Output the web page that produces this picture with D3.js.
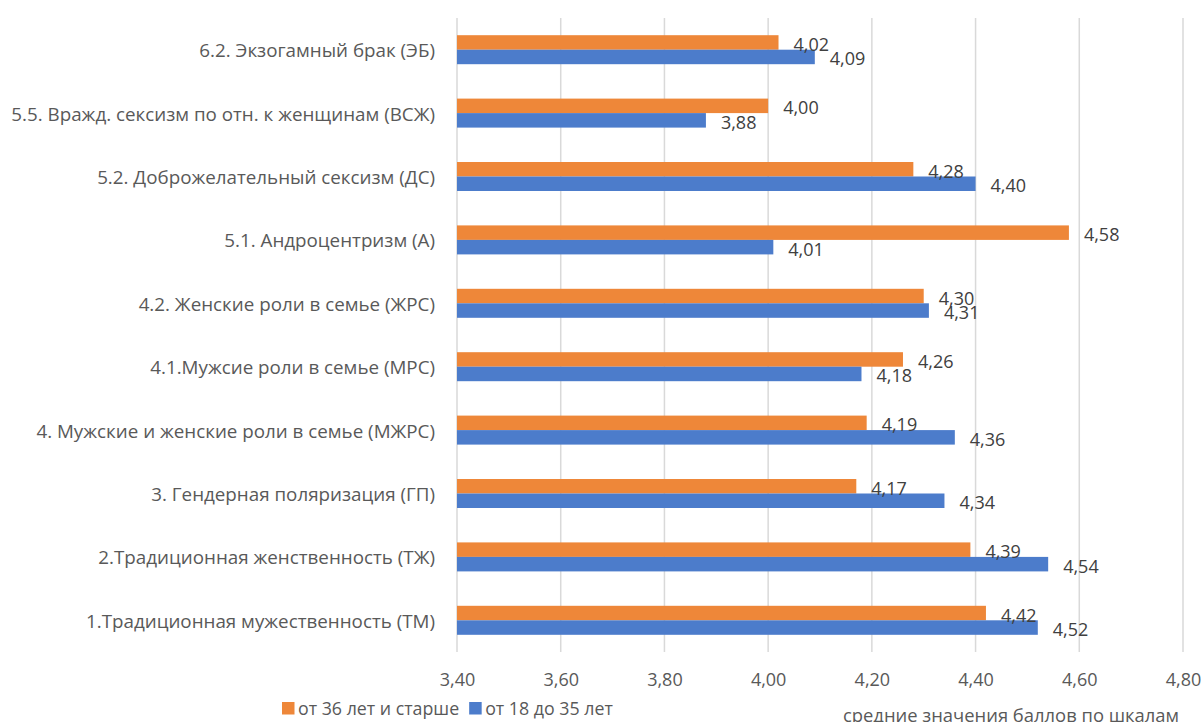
<!DOCTYPE html>
<html lang="ru">
<head>
<meta charset="utf-8">
<script src="https://cdn.jsdelivr.net/npm/d3@7/dist/d3.min.js"></script>
<style>
  html, body { margin: 0; padding: 0; background: #fff; }
  svg { display: block; }
  text { font-family: "Open Sans", "Noto Sans", sans-serif; }
</style>
</head>
<body>
<svg id="chart" width="1202" height="722"></svg>
<script>
// Шкалы (сверху вниз, как на диаграмме)
const categories = [
  "6.2. Экзогамный брак (ЭБ)",
  "5.5. Вражд. сексизм по отн. к женщинам (ВСЖ)",
  "5.2. Доброжелательный сексизм (ДС)",
  "5.1. Андроцентризм (А)",
  "4.2. Женские роли в семье (ЖРС)",
  "4.1.Мужсие роли в семье (МРС)",
  "4. Мужские и женские роли в семье (МЖРС)",
  "3. Гендерная поляризация (ГП)",
  "2.Традиционная женственность (ТЖ)",
  "1.Традиционная мужественность (ТМ)"
];

const seriesNames = ["от 36 лет и старше", "от 18 до 35 лет"];

const older = [4.02, 4.00, 4.28, 4.58, 4.30, 4.26, 4.19, 4.17, 4.39, 4.42];
const younger = [4.09, 3.88, 4.40, 4.01, 4.31, 4.18, 4.36, 4.34, 4.54, 4.52];

const xTicks = [3.40, 3.60, 3.80, 4.00, 4.20, 4.40, 4.60, 4.80];

const axisTitle = "средние значения баллов по шкалам";

const colors = ["#EE8739", "#4C7CCB"];
const seriesValues = [older, younger];

const svg = d3.select("#chart");

const x = d3.scaleLinear().domain([3.4, 4.8]).range([457, 1183]);
const y = d3.scaleBand().domain(categories).range([18, 652])
  .paddingInner(0.5426).paddingOuter(0.2713);
const ySub = d3.scaleBand().domain(d3.range(seriesNames.length)).range([0, y.bandwidth()]);

const fmt = v => d3.format(".2f")(v).replace(".", ",");

// Вертикальная сетка
svg.append("g")
  .selectAll("line")
  .data(xTicks)
  .join("line")
  .attr("x1", d => x(d)).attr("x2", d => x(d))
  .attr("y1", 18).attr("y2", 652)
  .attr("stroke", "#d9d9d9")
  .attr("stroke-width", 1.5);

// Подписи оси X
const xAxis = d3.axisBottom(x).tickValues(xTicks).tickSize(0).tickPadding(0).tickFormat(fmt);
const gx = svg.append("g").attr("transform", "translate(0,673)").call(xAxis);
gx.select(".domain").remove();
gx.selectAll("text")
  .attr("fill", "#595959")
  .attr("font-size", 18)
  .attr("dy", "0.71em")
  .attr("y", 0)
  .style("font-family", "'Open Sans', sans-serif");

// Подписи категорий
const yAxis = d3.axisLeft(y).tickSize(0).tickPadding(0);
const gy = svg.append("g").attr("transform", "translate(435,0)").call(yAxis);
gy.select(".domain").remove();
gy.selectAll("text")
  .attr("fill", "#595959")
  .attr("font-size", 18.8)
  .attr("dy", "0.4em")
  .style("font-family", "'Open Sans', sans-serif");

// Столбцы
const groups = svg.append("g")
  .selectAll("g")
  .data(seriesValues)
  .join("g")
  .attr("fill", (d, i) => colors[i]);

groups.each(function(vals, si) {
  d3.select(this).selectAll("rect")
    .data(vals)
    .join("rect")
    .attr("x", x(3.4))
    .attr("y", (v, ci) => y(categories[ci]) + ySub(si))
    .attr("width", v => x(v) - x(3.4))
    .attr("height", ySub.bandwidth());
});

// Подписи значений
const labels = svg.append("g");
seriesValues.forEach((vals, si) => {
  labels.selectAll(null)
    .data(vals)
    .join("text")
    .attr("x", v => x(v) + 15)
    .attr("y", (v, ci) => y(categories[ci]) + ySub(si) + ySub.bandwidth() / 2 + 2)
    .attr("dy", "0.36em")
    .attr("fill", "#404040")
    .attr("font-size", 18)
    .text(v => fmt(v));
});

// Легенда
const legend = svg.append("g").attr("transform", "translate(282,702)");
let lx = 0;
seriesNames.forEach((name, i) => {
  const g = legend.append("g").attr("transform", `translate(${lx},0)`);
  g.append("rect").attr("width", 12.5).attr("height", 12.5).attr("fill", colors[i]);
  const t = g.append("text")
    .attr("x", 16).attr("y", 6.5).attr("dy", "0.36em")
    .attr("fill", "#595959").attr("font-size", 17.8)
    .text(name);
  lx += 16 + t.node().getComputedTextLength() + 10;
});

// Название оси X
svg.append("text")
  .attr("x", 1011).attr("y", 715).attr("dy", "0.36em")
  .attr("text-anchor", "middle")
  .attr("fill", "#595959").attr("font-size", 18.4)
  .text(axisTitle);
</script>
</body>
</html>
